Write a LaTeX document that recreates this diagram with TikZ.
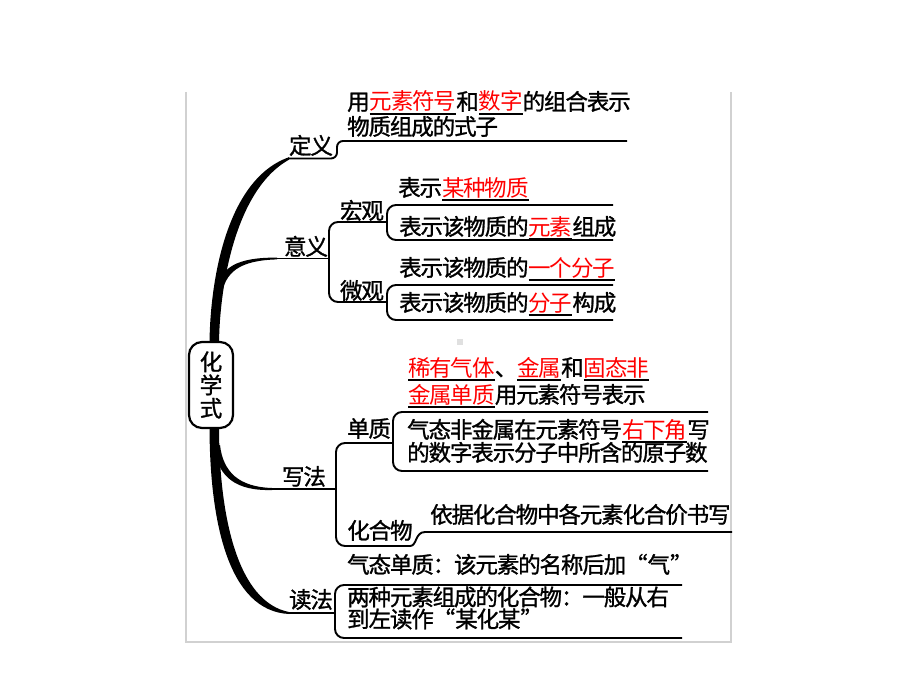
\documentclass[tikz,border=0pt]{standalone}
\usepackage{fontspec}
\newfontfamily\cjk[FakeBold=1.2,LetterSpace=-5]{Noto Sans CJK SC}
\newfontfamily\cjkred[LetterSpace=-5]{Noto Sans CJK SC}
\newcommand\cjkfont{\cjk\fontsize{22.5}{23.2}\selectfont}
\newcommand\blank[1]{\setbox0\hbox{\cjkred\textcolor{red}{#1}}\rlap{\rule[-4.6pt]{\wd0}{1.5pt}}\box0}
\newcommand\myLQ{\makebox[21.4pt][r]{“}}
\newcommand\myRQ{\makebox[21.4pt][l]{”}}
\begin{document}
\begin{tikzpicture}[x=1pt,y=-1pt]
\tikzset{
  txt/.style={inner sep=0pt, anchor=base west, font=\cjkfont},
  lbl/.style={inner sep=0pt, anchor=base, font=\cjkfont},
  br/.style={line width=1.9pt, rounded corners=9pt},
  frame/.style={draw=black!18, line width=1.5pt},
  rootbox/.style={draw, line width=2.2pt, rounded corners=13pt, fill=white, minimum width=44pt, minimum height=86pt, inner sep=0pt, align=center, font=\cjkfont}
}
\useasboundingbox (0,0) rectangle (920,690);
\fill[white] (0,0) rectangle (920,690);
% frame
\draw[frame] (186,92) -- (186,642) -- (731,642) -- (731,92);
\fill[black!12] (457,339) rectangle (463,345);
% trunk
\fill[black] (209.5,346) .. controls (209.5,288) and (224,180) .. (289,157.2) -- (289,159.7) .. controls (233,191) and (219,294) .. (219,346) -- cycle;
\fill[black] (209.5,425) .. controls (209.5,524) and (229,611) .. (289,614) -- (289,612) .. controls (238,602) and (219,518) .. (219,425) -- cycle;
% branches
\fill[black] (214,447) .. controls (218,478) and (237,491) .. (272,490) -- (272,488) .. controls (239,487) and (223,472) .. (220,445) -- cycle;
\fill[black] (216,292) .. controls (220,267) and (237,257.4) .. (277,257.6) -- (277,259.4) .. controls (239,260.5) and (225,272) .. (221,297) -- cycle;
% root
\node[rootbox] (root) at (211,385) {化\\学\\式};
% lines
\draw[br, rounded corners=6pt] (288,158.5) -| (337,141) -- (627,141);
\draw[br] (276,258.5) -- (329,258.5);
\draw[br] (387,222) -| (329,302) -- (387,302);
\draw[br] (613,205) -| (387,240) -- (613,240);
\draw[br] (613,285) -| (387,320) -- (613,320);
\draw[br] (271,489) -- (336,489);
\draw[br] (393,443) -| (336,546) -- (411,546);
\draw[line width=1.9pt] (410,546) .. controls (417,546) and (415,532) .. (425,532) -- (732,532);
\draw[br] (708,412) -| (393,471) -- (708,471);
\draw[br] (288,613) -- (335,613);
\draw[br] (682,585) -| (335,638) -- (682,638);
% texts
\node[txt] (d1) at (347,110) {用\blank{元素符号}和\blank{数字}的组合表示};
\node[txt] (d2) at (347,135) {物质组成的式子};
\node[lbl] (ldy) at (311,154) {定义};
\node[lbl] (lyy) at (306,255) {意义};
\node[lbl] (lhg) at (362,219) {宏观};
\node[lbl] (lwg) at (362,299) {微观};
\node[txt] (m1) at (398,196) {表示\blank{某种物质}};
\node[txt] (m2) at (399,235) {表示该物质的\blank{元素}组成};
\node[txt] (m3) at (399,276) {表示该物质的\blank{一个分子}};
\node[txt] (m4) at (399,311) {表示该物质的\blank{分子}构成};
\node[lbl] (lxf) at (304,485) {写法};
\node[lbl] (ldz) at (369,437) {单质};
\node[txt] (s1) at (408,376) {\blank{稀有气体}、\blank{金属}和\blank{固态非}};
\node[txt] (s2) at (408,403) {\blank{金属单质}用元素符号表示};
\node[txt] (s3) at (407,438) {气态非金属在元素符号\blank{右下角}写};
\node[txt] (s4) at (407,461) {的数字表示分子中所含的原子数};
\node[lbl] (lhh) at (380,539) {化合物};
\node[txt] (c1) at (430,523) {依据化合物中各元素化合价书写};
\node[lbl] (ldf) at (311,608) {读法};
\node[txt] (r1) at (347,573) {气态单质：该元素的名称后加\myLQ 气\myRQ};
\node[txt] (r2) at (347,605.5) {两种元素组成的化合物：一般从右};
\node[txt] (r3) at (347,627.5) {到左读作\myLQ 某化某\myRQ};
\end{tikzpicture}
\end{document}
